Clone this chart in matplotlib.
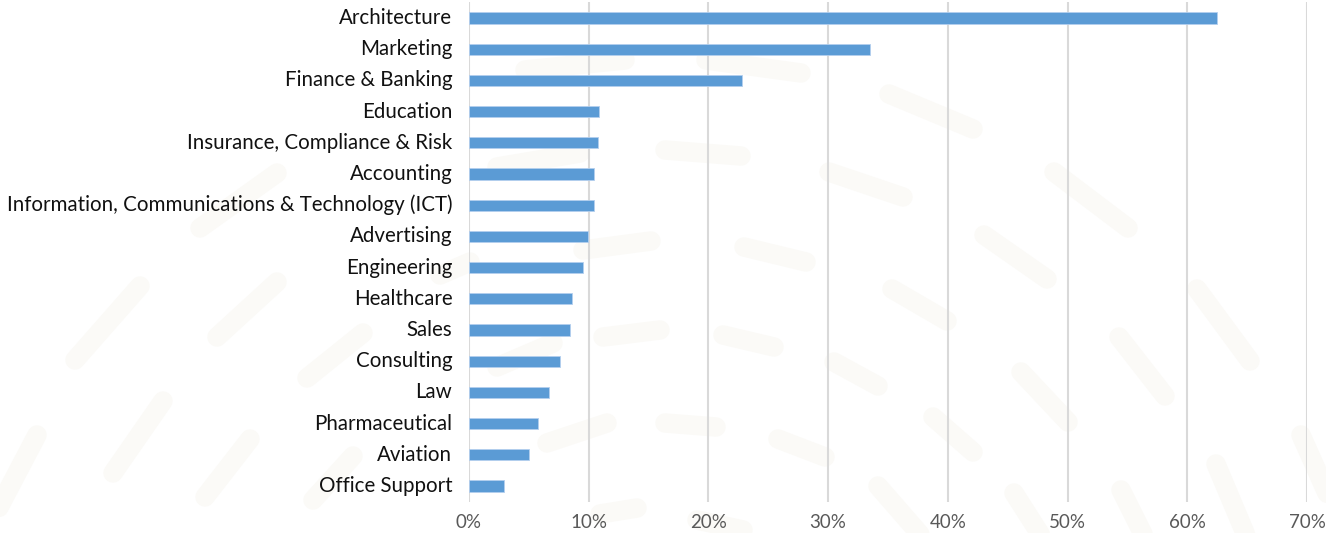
import matplotlib.pyplot as plt
import matplotlib.transforms as mtransforms
from matplotlib.lines import Line2D
from matplotlib.ticker import PercentFormatter

categories = [
    "Architecture", "Marketing", "Finance & Banking", "Education",
    "Insurance, Compliance & Risk", "Accounting",
    "Information, Communications & Technology (ICT)", "Advertising",
    "Engineering", "Healthcare", "Sales", "Consulting", "Law",
    "Pharmaceutical", "Aviation", "Office Support",
]
shares = [62.5, 33.5, 22.8, 10.9, 10.75, 10.45, 10.45, 9.97,
          9.5, 8.58, 8.41, 7.63, 6.69, 5.77, 4.99, 2.95]
x_ticks = [0, 10, 20, 30, 40, 50, 60, 70]

W, H = 1326, 533
fig = plt.figure(figsize=(W / 100, H / 100), dpi=100)
fig.patch.set_facecolor("white")

# faint background dashes (pixel coords, top-left origin)
dashes = [
    ((525, 70), (625, 60)), ((706, 60), (801, 73)), ((889, 94), (973, 129)),
    ((497, 167), (580, 153)), ((665, 150), (741, 156)), ((829, 172), (903, 197)),
    ((1054, 172), (1128, 228)), ((583, 250), (651, 241)), ((744, 247), (806, 262)),
    ((984, 235), (1047, 279)), ((892, 289), (947, 321)), ((1197, 289), (1250, 361)),
    ((603, 337), (660, 330)), ((723, 335), (774, 347)), ((834, 362), (878, 386)),
    ((1021, 372), (1068, 422)), ((1119, 337), (1165, 396)), ((497, 367), (553, 343)),
    ((665, 423), (716, 427)), ((778, 439), (825, 457)), ((933, 417), (973, 452)),
    ((547, 443), (607, 423)), ((878, 486), (925, 540)), ((1014, 493), (1044, 540)),
    ((1121, 490), (1146, 540)), ((1216, 464), (1248, 540)), ((1301, 435), (1330, 500)),
    ((600, 514), (637, 508)), ((697, 520), (743, 530)),
    ((277, 173), (200, 228)), ((140, 286), (75, 360)), ((277, 282), (217, 337)),
    ((363, 333), (307, 378)), ((163, 401), (113, 473)), ((37, 435), (-5, 515)),
    ((250, 439), (205, 497)), ((353, 456), (313, 500)), ((470, 262), (440, 275)),
]
for (x0, y0), (x1, y1) in dashes:
    fig.add_artist(Line2D([x0 / W, x1 / W], [1 - y0 / H, 1 - y1 / H],
                          transform=fig.transFigure, color="#fbfaf7",
                          lw=14, solid_capstyle="round", zorder=0))

ax = fig.add_axes([469 / W, 1 - 501.6 / H, (1307 - 469) / W, 499.2 / H])
ax.set_facecolor("none")
ax.set_zorder(1)

y = list(range(len(categories)))
ax.barh(y, shares, height=0.36, color="#5b9bd5", edgecolor="#b4cfee",
        linewidth=0.6, zorder=3)

ax.set_xlim(0, 70)
ax.set_ylim(len(categories) - 0.5, -0.5)
ax.set_xticks(x_ticks)
ax.xaxis.set_major_formatter(PercentFormatter(decimals=0))
ax.set_yticks(y)
ax.set_yticklabels(categories)

ax.grid(axis="x", color="#d9d9d9", linewidth=1.5, zorder=1)
ax.set_axisbelow(True)
for s in ax.spines.values():
    s.set_visible(False)

ax.tick_params(axis="y", length=0, pad=12, labelsize=14.8, labelcolor="#111111")
ax.tick_params(axis="x", length=0, pad=9, labelsize=13.5, labelcolor="#595959")
# nudge category labels up a touch
lift = mtransforms.ScaledTranslation(0, 2 / 100, fig.dpi_scale_trans)
for lab in ax.get_yticklabels():
    lab.set_transform(lab.get_transform() + lift)
for lab in ax.get_xticklabels() + ax.get_yticklabels():
    lab.set_family("Lato")

fig.savefig("out.png", dpi=100, facecolor="white")
